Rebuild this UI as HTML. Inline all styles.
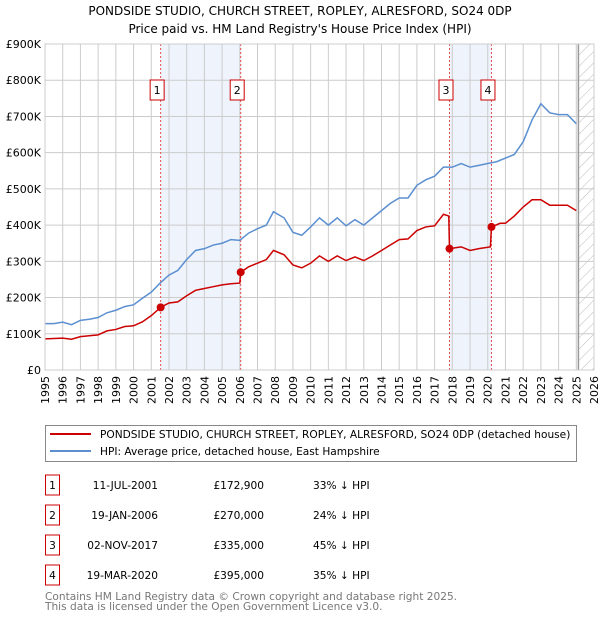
<!DOCTYPE html>
<html><head><meta charset="utf-8"><style>
body{margin:0;background:#fff;font-family:"DejaVu Sans","Liberation Sans",sans-serif;}
svg text{font-family:"DejaVu Sans","Liberation Sans",sans-serif;}
</style></head><body>
<svg id="chart" width="600" height="620" xmlns="http://www.w3.org/2000/svg">
<defs><pattern id="hatch" width="8" height="8" patternUnits="userSpaceOnUse" patternTransform="rotate(45)"><line x1="0" y1="0" x2="0" y2="8" stroke="#bbb" stroke-width="1"/></pattern></defs>
<text x="300" y="15" text-anchor="middle" font-size="12" fill="#000">PONDSIDE STUDIO, CHURCH STREET, ROPLEY, ALRESFORD, SO24 0DP</text>
<text x="300" y="33" text-anchor="middle" font-size="12" fill="#000">Price paid vs. HM Land Registry's House Price Index (HPI)</text>
<g id="plot"></g>
<rect x="45.5" y="425.5" width="531" height="36" fill="#fff" stroke="#888"/>
<line x1="50" y1="434" x2="91" y2="434" stroke="#cc0000" stroke-width="2"/>
<text x="100" y="438" font-size="10.6">PONDSIDE STUDIO, CHURCH STREET, ROPLEY, ALRESFORD, SO24 0DP (detached house)</text>
<line x1="50" y1="451" x2="91" y2="451" stroke="#5b8fd0" stroke-width="2"/>
<text x="100" y="455" font-size="10.6">HPI: Average price, detached house, East Hampshire</text>
<g id="table" font-size="10.6"></g>
<text x="45" y="600" font-size="10.6" fill="#777">Contains HM Land Registry data © Crown copyright and database right 2025.</text>
<text x="45" y="610" font-size="10.6" fill="#777">This data is licensed under the Open Government Licence v3.0.</text>
</svg>
<script>
const hpiYears=[1995,1995.5,1996,1996.5,1997,1997.5,1998,1998.5,1999,1999.5,2000,2000.5,2001,2001.5,2002,2002.5,2003,2003.5,2004,2004.5,2005,2005.5,2006,2006.5,2007,2007.5,2007.9,2008.5,2009,2009.5,2010,2010.5,2011,2011.5,2012,2012.5,2013,2013.5,2014,2014.5,2015,2015.5,2016,2016.5,2017,2017.5,2018,2018.5,2019,2019.5,2020,2020.5,2021,2021.5,2022,2022.5,2023,2023.5,2024,2024.5,2025];
const hpiValues=[128,128,132,125,137,140,145,158,165,175,180,198,215,240,262,275,305,330,335,345,350,360,358,378,390,400,437,420,380,372,395,420,400,420,398,415,400,420,440,460,475,475,510,525,535,560,560,570,560,565,570,575,585,595,630,690,735,710,705,705,680];
const priceYears=[1995,1996,1996.5,1997,1998,1998.5,1999,1999.5,2000,2000.5,2001,2001.53,2002,2002.5,2003,2003.5,2004,2004.5,2005,2005.5,2006.0,2006.05,2006.5,2007,2007.5,2007.9,2008.5,2009,2009.5,2010,2010.5,2011,2011.5,2012,2012.5,2013,2013.5,2014,2014.5,2015,2015.5,2016,2016.5,2017,2017.5,2017.8,2017.84,2018.5,2019,2019.5,2020.15,2020.21,2020.7,2021,2021.5,2022,2022.5,2023,2023.5,2024,2024.5,2025];
const priceValues=[86,88,85,92,97,108,112,120,122,133,150,172.9,185,188,205,220,225,230,235,238,240,270,285,295,305,330,318,290,282,295,315,300,315,302,312,302,315,330,345,360,362,385,395,398,430,425,335,340,330,335,340,395,405,405,425,450,470,470,455,455,455,440];
const saleYears=[2001.53,2006.05,2017.84,2020.21];
const salePrices=[172.9,270,335,395];
const saleDates=["11-JUL-2001","19-JAN-2006","02-NOV-2017","19-MAR-2020"];
const salePriceLabels=["£172,900","£270,000","£335,000","£395,000"];
const saleHpiLabels=["33% ↓ HPI","24% ↓ HPI","45% ↓ HPI","35% ↓ HPI"];
const yTicks=[0,100,200,300,400,500,600,700,800,900];
const yTickLabels=["£0","£100K","£200K","£300K","£400K","£500K","£600K","£700K","£800K","£900K"];
const xTicks=[1995,1996,1997,1998,1999,2000,2001,2002,2003,2004,2005,2006,2007,2008,2009,2010,2011,2012,2013,2014,2015,2016,2017,2018,2019,2020,2021,2022,2023,2024,2025,2026];

const NS="http://www.w3.org/2000/svg";
const X0=45,X1=594,Y0=370,Y1=44;
const xs=y=>X0+(y-1995)/(2026-1995)*(X1-X0);
const ys=v=>Y0-v/900*(Y0-Y1);
const plot=document.getElementById('plot');
function mk(tag,attrs,parent){const e=document.createElementNS(NS,tag);for(const k in attrs)e.setAttribute(k,attrs[k]);(parent||plot).appendChild(e);return e;}

const bg=mk('rect',{x:X0,y:Y1,width:X1-X0,height:Y0-Y1,fill:'#fff'});


for(let i=0;i<2;i++){
  const s=mk('rect',{x:xs(saleYears[2*i]),y:Y1,width:xs(saleYears[2*i+1])-xs(saleYears[2*i]),height:Y0-Y1,fill:'#eef3fc'});
  
  
}
const hx=xs(2025.12);
const h=mk('rect',{x:hx,y:Y1,width:X1-hx,height:Y0-Y1,fill:'url(#hatch)'});


xTicks.forEach(t=>{
  const l=mk('line',{x1:xs(t),x2:xs(t),y1:Y1,y2:Y0,stroke:'#ccc','stroke-width':1});
  
  
  const tx=mk('text',{x:0,y:0,'font-size':11,'text-anchor':'end',transform:`translate(${xs(t)+4},${Y0+6}) rotate(-90)`});
  tx.textContent=t;
  
  
});
yTicks.forEach((t,i)=>{
  const l=mk('line',{x1:X0,x2:X1,y1:ys(t),y2:ys(t),stroke:'#ccc','stroke-width':1});
  
  
  const tx=mk('text',{x:X0-4,y:ys(t)+4,'font-size':11,'text-anchor':'end'});
  tx.textContent=yTickLabels[i];
  
  
});
const vl=mk('line',{x1:hx,x2:hx,y1:Y1,y2:Y0,stroke:'#999','stroke-width':1.5});


saleYears.forEach((y,i)=>{
  const l=mk('line',{x1:xs(y),x2:xs(y),y1:Y1,y2:Y0,stroke:'#e05050','stroke-width':1,'stroke-dasharray':'2,2'});
  
  
  const bx=xs(y)-3.5-7;
  const b=mk('rect',{x:bx,y:80,width:14,height:20,fill:'#fff',stroke:'#cc0000'});
  
  
  const t=mk('text',{x:bx+7,y:94,'font-size':11,'text-anchor':'middle'});
  t.textContent=i+1;
  
  
});
const hp=mk('polyline',{points:hpiYears.map((y,i)=>xs(y)+','+ys(hpiValues[i])).join(' '),fill:'none',stroke:'#5b8fd0','stroke-width':1.5});


const pp=mk('polyline',{points:priceYears.map((y,i)=>xs(y)+','+ys(priceValues[i])).join(' '),fill:'none',stroke:'#cc0000','stroke-width':1.5});


saleYears.forEach((y,i)=>{
  const c=mk('circle',{cx:xs(y),cy:ys(salePrices[i]),r:4,fill:'#cc0000'});
  
  
});
const ax=mk('rect',{x:X0,y:Y1,width:X1-X0,height:Y0-Y1,fill:'none',stroke:'#ccc'});



const tb=document.getElementById('table');
saleDates.forEach((d,i)=>{
  const cy=485+i*30;
  const b=mk('rect',{x:45.5,y:cy-10,width:14,height:20,fill:'#fff',stroke:'#cc0000'},tb);
  
  
  const n=mk('text',{x:52.5,y:cy+4,'text-anchor':'middle'},tb);n.textContent=i+1;
  
  
  const t1=mk('text',{x:158,y:cy+4,'text-anchor':'end'},tb);t1.textContent=d;
  
  
  const t2=mk('text',{x:264,y:cy+4,'text-anchor':'end'},tb);t2.textContent=salePriceLabels[i];
  
  
  const t3=mk('text',{x:313,y:cy+4},tb);t3.textContent=saleHpiLabels[i];
  
  
});
</script>
</body></html>
